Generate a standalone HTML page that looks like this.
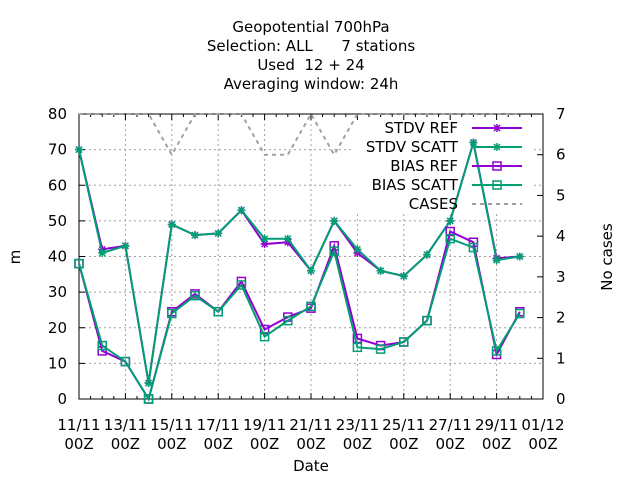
<!DOCTYPE html>
<html><head><meta charset="utf-8"><style>
html,body{margin:0;padding:0;background:#fff;}
svg{display:block;font-family:"DejaVu Sans","Liberation Sans",sans-serif;}
</style></head><body>
<svg id="chart" width="640" height="480" xmlns="http://www.w3.org/2000/svg">
<g font-size="15" text-anchor="middle" fill="#000">
<text x="311" y="32">Geopotential 700hPa</text>
<text x="311" y="51" xml:space="preserve">Selection: ALL      7 stations</text>
<text x="311" y="70" xml:space="preserve">Used  12 + 24</text>
<text x="311" y="89">Averaging window: 24h</text>
</g>
<g id="grid"></g>
<rect x="352" y="117" width="180" height="96" fill="#fff"/>
<g id="axes"></g>
<g id="series"></g>
<text x="20" y="257" font-size="15" text-anchor="middle" transform="rotate(-90 20 257)">m</text>
<text x="612" y="257" font-size="15" text-anchor="middle" transform="rotate(-90 612 257)">No cases</text>
<text x="311" y="471" font-size="15" text-anchor="middle">Date</text>
<g id="legend"></g>
</svg>
<script>
const xTickLabels = ["11/11","13/11","15/11","17/11","19/11","21/11","23/11","25/11","27/11","29/11","01/12"];
const yTicks = [0,10,20,30,40,50,60,70,80];
const y2Ticks = [0,1,2,3,4,5,6,7];
const days = [0,1,2,3,4,5,6,7,8,9,10,11,12,13,14,15,16,17,18,19];
const stdvRef = [70,42,43,4.5,49,46,46.5,53,43.5,44,36,50,41,36,34.5,40.5,50,72,39.5,40];
const stdvScatt = [70,41,43,4.5,49,46,46.5,53,45,45,36,50,42,36,34.5,40.5,50,72,39,40];
const biasRef = [38,13.5,10.5,0,24.5,29.5,24.5,33,19.5,23,25.5,43,17,15,16,22,47,44,12.5,24.5];
const biasScatt = [38,15,10.5,0,24,29,24.5,32,17.5,22,26,41.5,14.5,14,16,22,45,42.5,13.5,24];
const cases = [7,7,7,7,6,7,7,7,6,6,7,6,7,7,7,7,7,7,7,7];

const L=79,R=543,T=114,B=399;
const xS=d=>L+(R-L)*d/20;
const yS=v=>B-(B-T)*v/80;
const y2S=v=>B-(B-T)*v/7;
const NS="http://www.w3.org/2000/svg";
function mk(tag,attrs,parent){const e=document.createElementNS(NS,tag);for(const k in attrs)e.setAttribute(k,attrs[k]);parent.appendChild(e);return e;}
const grid=document.getElementById('grid'),axes=document.getElementById('axes'),series=document.getElementById('series'),legend=document.getElementById('legend');

xTickLabels.forEach((lab,i)=>{
  const x=xS(i*2);
  if(i>0&&i<xTickLabels.length-1){const g=mk('line',{x1:x,x2:x,y1:T,y2:B,stroke:'#a0a0a0','stroke-dasharray':'2,3'},grid);
  
  }
  const t=mk('text',{x:x,y:430,'font-size':15,'text-anchor':'middle'},axes);
  
  
  t.textContent=lab;
  const t2=mk('text',{x:x,y:449,'font-size':15,'text-anchor':'middle'},axes);
  
  
  t2.textContent='00Z';
});
for(let h=0;h<=40;h++){const x=L+(R-L)*h/40;const len=(h%4===0)?6:3;
  mk('line',{x1:x,x2:x,y1:B,y2:B-len,stroke:'#000'},axes);
  mk('line',{x1:x,x2:x,y1:T,y2:T+len,stroke:'#000'},axes);}
yTicks.forEach(v=>{
  const y=yS(v);
  if(v>0&&v<80){const g=mk('line',{x1:L,x2:R,y1:y,y2:y,stroke:'#a0a0a0','stroke-dasharray':'2,3'},grid);
  
  }
  mk('line',{x1:L,x2:L+6,y1:y,y2:y,stroke:'#000'},axes);
  const t=mk('text',{x:67,y:y+5,'font-size':15,'text-anchor':'end'},axes);
  
  
  t.textContent=v;
});
y2Ticks.forEach(v=>{
  const y=y2S(v);
  mk('line',{x1:R,x2:R-6,y1:y,y2:y,stroke:'#000'},axes);
  const t=mk('text',{x:556,y:y+5,'font-size':15,'text-anchor':'start'},axes);
  
  
  t.textContent=v;
});
const frame=mk('rect',{x:L,y:T,width:R-L,height:B-T,fill:'none',stroke:'#000'},axes);



function star(g,x,y,c){
  mk('path',{d:`M${x-4},${y}H${x+4}M${x},${y-4}V${y+4}M${x-3},${y-3}L${x+3},${y+3}M${x-3},${y+3}L${x+3},${y-3}`,stroke:c,'stroke-width':1.5,fill:'none'},g);
}
function sq(g,x,y,c){mk('rect',{x:x-4,y:y-4,width:8,height:8,fill:'none',stroke:c,'stroke-width':1.5},g);}

const cases_g=mk('polyline',{points:days.map((d,i)=>xS(d)+','+y2S(cases[i])).join(' '),fill:'none',stroke:'#a0a0a0','stroke-width':2,'stroke-dasharray':'4,4'},series);



const defs=[
 {name:'series-stdv-ref',data:stdvRef,c:'#9400d3',m:star,label:'STDV REF'},
 {name:'series-stdv-scatt',data:stdvScatt,c:'#009e73',m:star,label:'STDV SCATT'},
 {name:'series-bias-ref',data:biasRef,c:'#9400d3',m:sq,label:'BIAS REF'},
 {name:'series-bias-scatt',data:biasScatt,c:'#009e73',m:sq,label:'BIAS SCATT'}
];
defs.forEach(s=>{
  const g=mk('g',{},series);
  
  
  mk('polyline',{points:days.map((d,i)=>xS(d)+','+yS(s.data[i])).join(' '),fill:'none',stroke:s.c,'stroke-width':2},g);
  days.forEach((d,i)=>s.m(g,xS(d),yS(s.data[i]),s.c));
});
const leg=[...defs,{name:'cases',label:'CASES',c:'#a0a0a0',m:null}];
leg.forEach((s,i)=>{
  const y=128+i*19;
  const g=mk('g',{},legend);
  
  
  const t=mk('text',{x:458,y:y+5,'font-size':15,'text-anchor':'end'},g);
  t.textContent=s.label;
  if(s.m){mk('line',{x1:472,x2:522,y1:y,y2:y,stroke:s.c,'stroke-width':2},g);s.m(g,497,y,s.c);}
  else mk('line',{x1:472,x2:522,y1:y,y2:y,stroke:s.c,'stroke-width':2,'stroke-dasharray':'4,4'},g);
});
</script>
</body></html>
